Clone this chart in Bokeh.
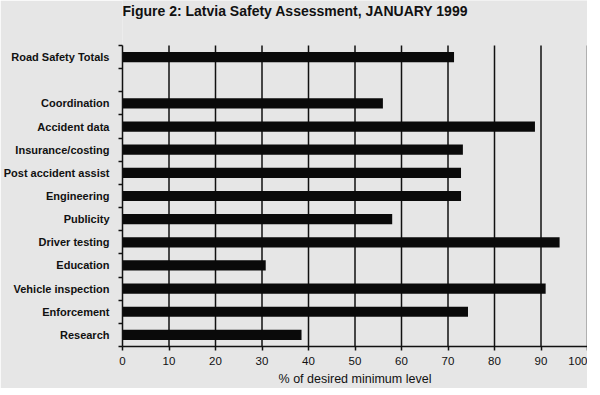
from bokeh.plotting import figure
from bokeh.models import FixedTicker, Range1d, ColumnDataSource, Label
from bokeh.embed import file_html
from bokeh.resources import INLINE

# ---- data ----
title_text = "Figure 2: Latvia Safety Assessment, JANUARY 1999"
totals_label = "Road Safety Totals"
totals_value = 71.3
categories = ["Coordination", "Accident data", "Insurance/costing",
              "Post accident assist", "Engineering", "Publicity",
              "Driver testing", "Education", "Vehicle inspection",
              "Enforcement", "Research"]
values = [56.0, 88.7, 73.2, 72.8, 72.8, 58.0, 94.0, 30.8, 91.0, 74.3, 38.5]
x_ticks = [0, 10, 20, 30, 40, 50, 60, 70, 80, 90, 100]

# rows from the top: totals, an empty row, then the categories
rows = [totals_label, None] + categories
row_values = [totals_value, None] + values
n = len(rows)
ys, labels, vals = [], [], []
overrides = {}
for i, (lab, v) in enumerate(zip(rows, row_values)):
    y = n - i - 0.5
    if lab is not None:
        ys.append(y)
        labels.append(lab)
        vals.append(v)
        overrides[y] = lab

src = ColumnDataSource(dict(y=ys, v=vals, label=labels))
grid_src = ColumnDataSource(dict(x=x_ticks[1:], y0=[0] * (len(x_ticks) - 1),
                                 y1=[n] * (len(x_ticks) - 1)))

BG = "#e6e6e6"
FONT = "Liberation Sans"
ROWS_PX = 301          # pixel height of the bar area
FRAME_H = 346          # bar area plus the title strip above it
y_top = n * FRAME_H / ROWS_PX

p = figure(frame_width=465, frame_height=FRAME_H, output_backend="svg",
           toolbar_location=None,
           x_range=Range1d(0, 100), y_range=Range1d(0, y_top),
           min_border_left=114, min_border_right=0, min_border_top=0,
           min_border_bottom=41,
           background_fill_color=BG, border_fill_color=BG,
           outline_line_color=None)

# vertical grid lines only over the bar area
p.segment(x0="x", y0="y0", x1="x", y1="y1", source=grid_src,
          line_color="#111111", line_width=1.5)

p.hbar(y="y", right="v", left=0, height=0.44, source=src,
       fill_color="#0a0a0a", line_color=None)

# title in the strip above the bars
p.add_layout(Label(x=0, y=y_top - 2 * n / ROWS_PX, text=title_text,
                   text_font=FONT, text_font_size="14px",
                   text_font_style="bold", text_color="#111111",
                   text_baseline="top", text_align="left"))

# x axis
xa = p.xaxis[0]
xa.ticker = FixedTicker(ticks=x_ticks)
xa.axis_label = "% of desired minimum level"
xa.axis_label_text_font = FONT
xa.axis_label_text_font_size = "12.5px"
xa.axis_label_text_font_style = "normal"
xa.axis_label_text_color = "#111111"
xa.axis_label_standoff = 4
xa.major_label_text_font = FONT
xa.major_label_text_font_size = "11.5px"
xa.major_label_text_color = "#111111"
xa.major_label_standoff = 6
xa.major_tick_out = 4
xa.major_tick_in = 0
xa.minor_tick_out = 0
xa.minor_tick_in = 0
xa.axis_line_color = "#111111"
xa.axis_line_width = 1.5
xa.major_tick_line_color = "#111111"
xa.major_tick_line_width = 1.5

# y axis: labels at row centres, tick marks at row boundaries
ya = p.yaxis[0]
ya.bounds = (0, n)
ya.ticker = FixedTicker(ticks=ys, minor_ticks=list(range(0, n + 1)))
ya.major_label_overrides = overrides
ya.major_label_text_font = FONT
ya.major_label_text_font_size = "11px"
ya.major_label_text_font_style = "bold"
ya.major_label_text_color = "#111111"
ya.major_label_standoff = 9
ya.major_tick_line_color = None
ya.major_tick_out = 0
ya.major_tick_in = 0
ya.minor_tick_out = 4
ya.minor_tick_in = 0
ya.minor_tick_line_color = "#111111"
ya.minor_tick_line_width = 1.5
ya.axis_line_color = "#111111"
ya.axis_line_width = 1.5

p.xgrid.grid_line_color = None
p.ygrid.grid_line_color = None

open("out.html", "w").write(file_html(p, INLINE))
